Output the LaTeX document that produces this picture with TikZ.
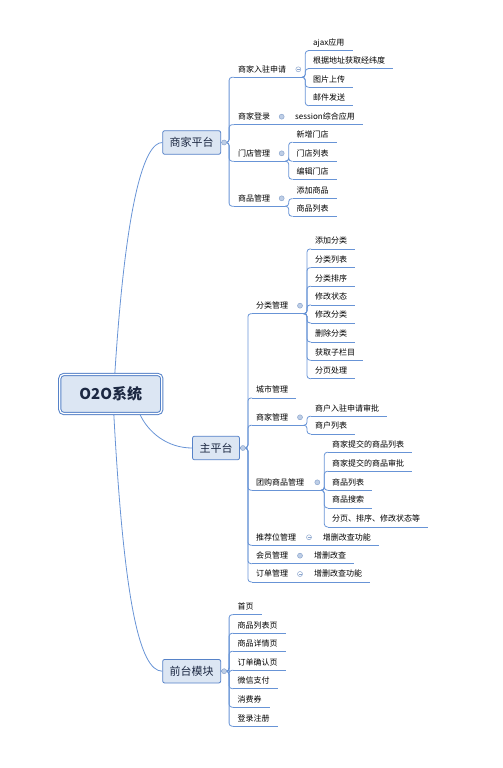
\documentclass[tikz,border=0pt]{standalone}
\usepackage{fontspec}
\setmainfont{Noto Sans CJK SC}
\usetikzlibrary{positioning}
\definecolor{lnblue}{RGB}{104,148,214}
\definecolor{bxfill}{RGB}{220,230,243}
\definecolor{bxline}{RGB}{86,130,200}
\definecolor{txdark}{RGB}{28,40,66}
\definecolor{dotfill}{RGB}{190,206,230}
\definecolor{dotline}{RGB}{140,166,206}

\begin{document}
\begin{tikzpicture}[x=1pt, y=-1pt,
		conn/.style={draw=lnblue, line width=0.8pt, rounded corners=3pt},
		uline/.style={draw=lnblue, line width=0.8pt},
		topic/.style={draw=bxline, fill=bxfill, line width=0.8pt, rounded corners=2pt, font=\fontsize{11}{13}\selectfont, text=txdark, inner xsep=7pt, minimum height=23.6pt},
		sub/.style={anchor=west, font=\fontsize{8}{9}\selectfont, text=black, inner xsep=4pt, inner ysep=4pt, text height=6.5pt, text depth=1pt},
		fold/.style={circle, draw=dotline, fill=dotfill, inner sep=0pt, minimum size=5pt, line width=0.5pt},
		foldm/.style={fold, fill=white, path picture={\draw[dotline, line width=0.5pt] ([xshift=1pt]path picture bounding box.west) -- ([xshift=-1pt]path picture bounding box.east);}}
	]
	\useasboundingbox (0,0) rectangle (503,768);
	\node[draw=bxline, double=white, double distance=1.2pt, line width=1pt, fill=bxfill, rounded corners=4pt, minimum width=102pt, minimum height=39pt, text=txdark, font=\fontsize{15}{18}\selectfont\bfseries] (root) at (110.8,394) {O2O系统};
	\node[topic] (sj) at (191.7,142.5) {商家平台};
	\node[topic] (zpt) at (216,448) {主平台};
	\node[topic] (qt) at (191.7,671.2) {前台模块};
	\draw[uline] ([xshift=4pt]root.north) .. controls +(11,-173) and +(-18,0) .. (sj.west);
	\draw[uline] ([xshift=29pt]root.south) .. controls +(8,18) and +(-25,0) .. (zpt.west);
	\draw[uline] ([xshift=3pt]root.south) .. controls +(10,185) and +(-23,0) .. (qt.west);
	\coordinate (sjf) at ([xshift=3pt]sj.east);
	\coordinate (zptf) at ([xshift=3pt]zpt.east);
	\coordinate (qtf) at ([xshift=3pt]qt.east);

	\node[sub] (k1) at (234,69.3) {商家入驻申请};
	\coordinate (k1f) at (298.3,69.3);
	\path (k1f |- k1.south) ++(3.5,0) coordinate (k1e);
	\draw[uline] (k1.south west) -- (k1e);
	\draw[conn] (sj.east) -- ++(8,0) |- (k1.south west);
	\foreach \n/\txt/\y in {1/ajax应用/42.7, 2/根据地址获取经纬度/60.7, 3/图片上传/79.3, 4/邮件发送/97.7}{
		\node[sub] (k1\n) at (309,\y) {\txt};
		\draw[uline] (k1\n.south west) -- ([xshift=4pt]k1\n.south east);
		\draw[conn] (k1e) -- ++(3.5,0) |- (k1\n.south west);
	}

	\node[sub] (k2) at (234,116.7) {商家登录};
	\coordinate (k2f) at (281.7,116.7);
	\node[sub] (k2s) at (291,116.7) {session综合应用};
	\draw[uline] (k2.south west) -- ([xshift=4pt]k2s.south east);
	\draw[conn] (sj.east) -- ++(8,0) |- (k2.south west);

	\node[sub] (k3) at (234,153.3) {门店管理};
	\coordinate (k3f) at (281.7,153.3);
	\path (k3f |- k3.south) ++(3.5,0) coordinate (k3e);
	\draw[uline] (k3.south west) -- (k3e);
	\draw[conn] (sj.east) -- ++(8,0) |- (k3.south west);
	\foreach \n/\txt/\y in {1/新增门店/134.3, 2/门店列表/153.3, 3/编辑门店/171.3}{
		\node[sub] (k3\n) at (292.5,\y) {\txt};
		\draw[uline] (k3\n.south west) -- ([xshift=4pt]k3\n.south east);
		\draw[conn] (k3e) -- ++(3.5,0) |- (k3\n.south west);
	}

	\node[sub] (k4) at (234,198.3) {商品管理};
	\coordinate (k4f) at (281.7,198.3);
	\path (k4f |- k4.south) ++(3.5,0) coordinate (k4e);
	\draw[uline] (k4.south west) -- (k4e);
	\draw[conn] (sj.east) -- ++(8,0) |- (k4.south west);
	\foreach \n/\txt/\y in {1/添加商品/190.7, 2/商品列表/208.3}{
		\node[sub] (k4\n) at (292.5,\y) {\txt};
		\draw[uline] (k4\n.south west) -- ([xshift=4pt]k4\n.south east);
		\draw[conn] (k4e) -- ++(3.5,0) |- (k4\n.south west);
	}

	\node[sub] (z1) at (252,305.7) {分类管理};
	\coordinate (z1f) at (300,305.7);
	\path (z1f |- z1.south) ++(3.5,0) coordinate (z1e);
	\draw[uline] (z1.south west) -- (z1e);
	\draw[conn] (zpt.east) -- ++(8,0) |- (z1.south west);
	\foreach \n/\txt/\y in {1/添加分类/241, 2/分类列表/259.7, 3/分类排序/278.3, 4/修改状态/297, 5/修改分类/315, 6/删除分类/334, 7/获取子栏目/352.3, 8/分页处理/370.7}{
		\node[sub] (z1\n) at (311,\y) {\txt};
		\draw[uline] (z1\n.south west) -- ([xshift=4pt]z1\n.south east);
		\draw[conn] (z1e) -- ++(3.5,0) |- (z1\n.south west);
	}

	\node[sub] (z2) at (252,390) {城市管理};
	\draw[uline] (z2.south west) -- ([xshift=4pt]z2.south east);
	\draw[conn] (zpt.east) -- ++(8,0) |- (z2.south west);

	\node[sub] (z3) at (252,417.3) {商家管理};
	\coordinate (z3f) at (300,417.3);
	\path (z3f |- z3.south) ++(3.5,0) coordinate (z3e);
	\draw[uline] (z3.south west) -- (z3e);
	\draw[conn] (zpt.east) -- ++(8,0) |- (z3.south west);
	\foreach \n/\txt/\y in {1/商户入驻申请审批/408.3, 2/商户列表/426}{
		\node[sub] (z3\n) at (311,\y) {\txt};
		\draw[uline] (z3\n.south west) -- ([xshift=4pt]z3\n.south east);
		\draw[conn] (z3e) -- ++(3.5,0) |- (z3\n.south west);
	}

	\node[sub] (z4) at (252,482.3) {团购商品管理};
	\coordinate (z4f) at (317.3,482.3);
	\path (z4f |- z4.south) ++(3.5,0) coordinate (z4e);
	\draw[uline] (z4.south west) -- (z4e);
	\draw[conn] (zpt.east) -- ++(8,0) |- (z4.south west);
	\foreach \n/\txt/\y in {1/商家提交的商品列表/444.3, 2/商家提交的商品审批/463.3, 3/商品列表/482.3, 4/商品搜索/500, 5/分页、排序、修改状态等/519}{
		\node[sub] (z4\n) at (328,\y) {\txt};
		\draw[uline] (z4\n.south west) -- ([xshift=4pt]z4\n.south east);
		\draw[conn] (z4e) -- ++(3.5,0) |- (z4\n.south west);
	}

	\node[sub] (z5) at (252,537.3) {推荐位管理};
	\coordinate (z5f) at (309,537.3);
	\node[sub] (z5s) at (318.7,537.3) {增删改查功能};
	\draw[uline] (z5.south west) -- ([xshift=4pt]z5s.south east);
	\draw[conn] (zpt.east) -- ++(8,0) |- (z5.south west);

	\node[sub] (z6) at (252,555.7) {会员管理};
	\coordinate (z6f) at (300,555.7);
	\node[sub] (z6s) at (310,555.7) {增删改查};
	\draw[uline] (z6.south west) -- ([xshift=4pt]z6s.south east);
	\draw[conn] (zpt.east) -- ++(8,0) |- (z6.south west);

	\node[sub] (z7) at (252,574) {订单管理};
	\coordinate (z7f) at (300,574);
	\node[sub] (z7s) at (310,574) {增删改查功能};
	\draw[uline] (z7.south west) -- ([xshift=4pt]z7s.south east);
	\draw[conn] (zpt.east) -- ++(8,0) |- (z7.south west);

	\foreach \n/\txt/\y in {1/首页/606.7, 2/商品列表页/625.3, 3/商品详情页/643.3, 4/订单确认页/662.3, 5/微信支付/680.7, 6/消费券/699.3, 7/登录注册/718.3}{
		\node[sub] (q\n) at (233.3,\y) {\txt};
		\draw[uline] (q\n.south west) -- ([xshift=4pt]q\n.south east);
		\draw[conn] (qt.east) -- ++(8,0) |- (q\n.south west);
	}

	\foreach \f in {sjf,zptf,qtf,k2f,k3f,k4f,z1f,z3f,z4f,z6f}
		\node[fold] at (\f) {};
	\foreach \f in {k1f,z5f,z7f}
		\node[foldm] at (\f) {};
\end{tikzpicture}
\end{document}
